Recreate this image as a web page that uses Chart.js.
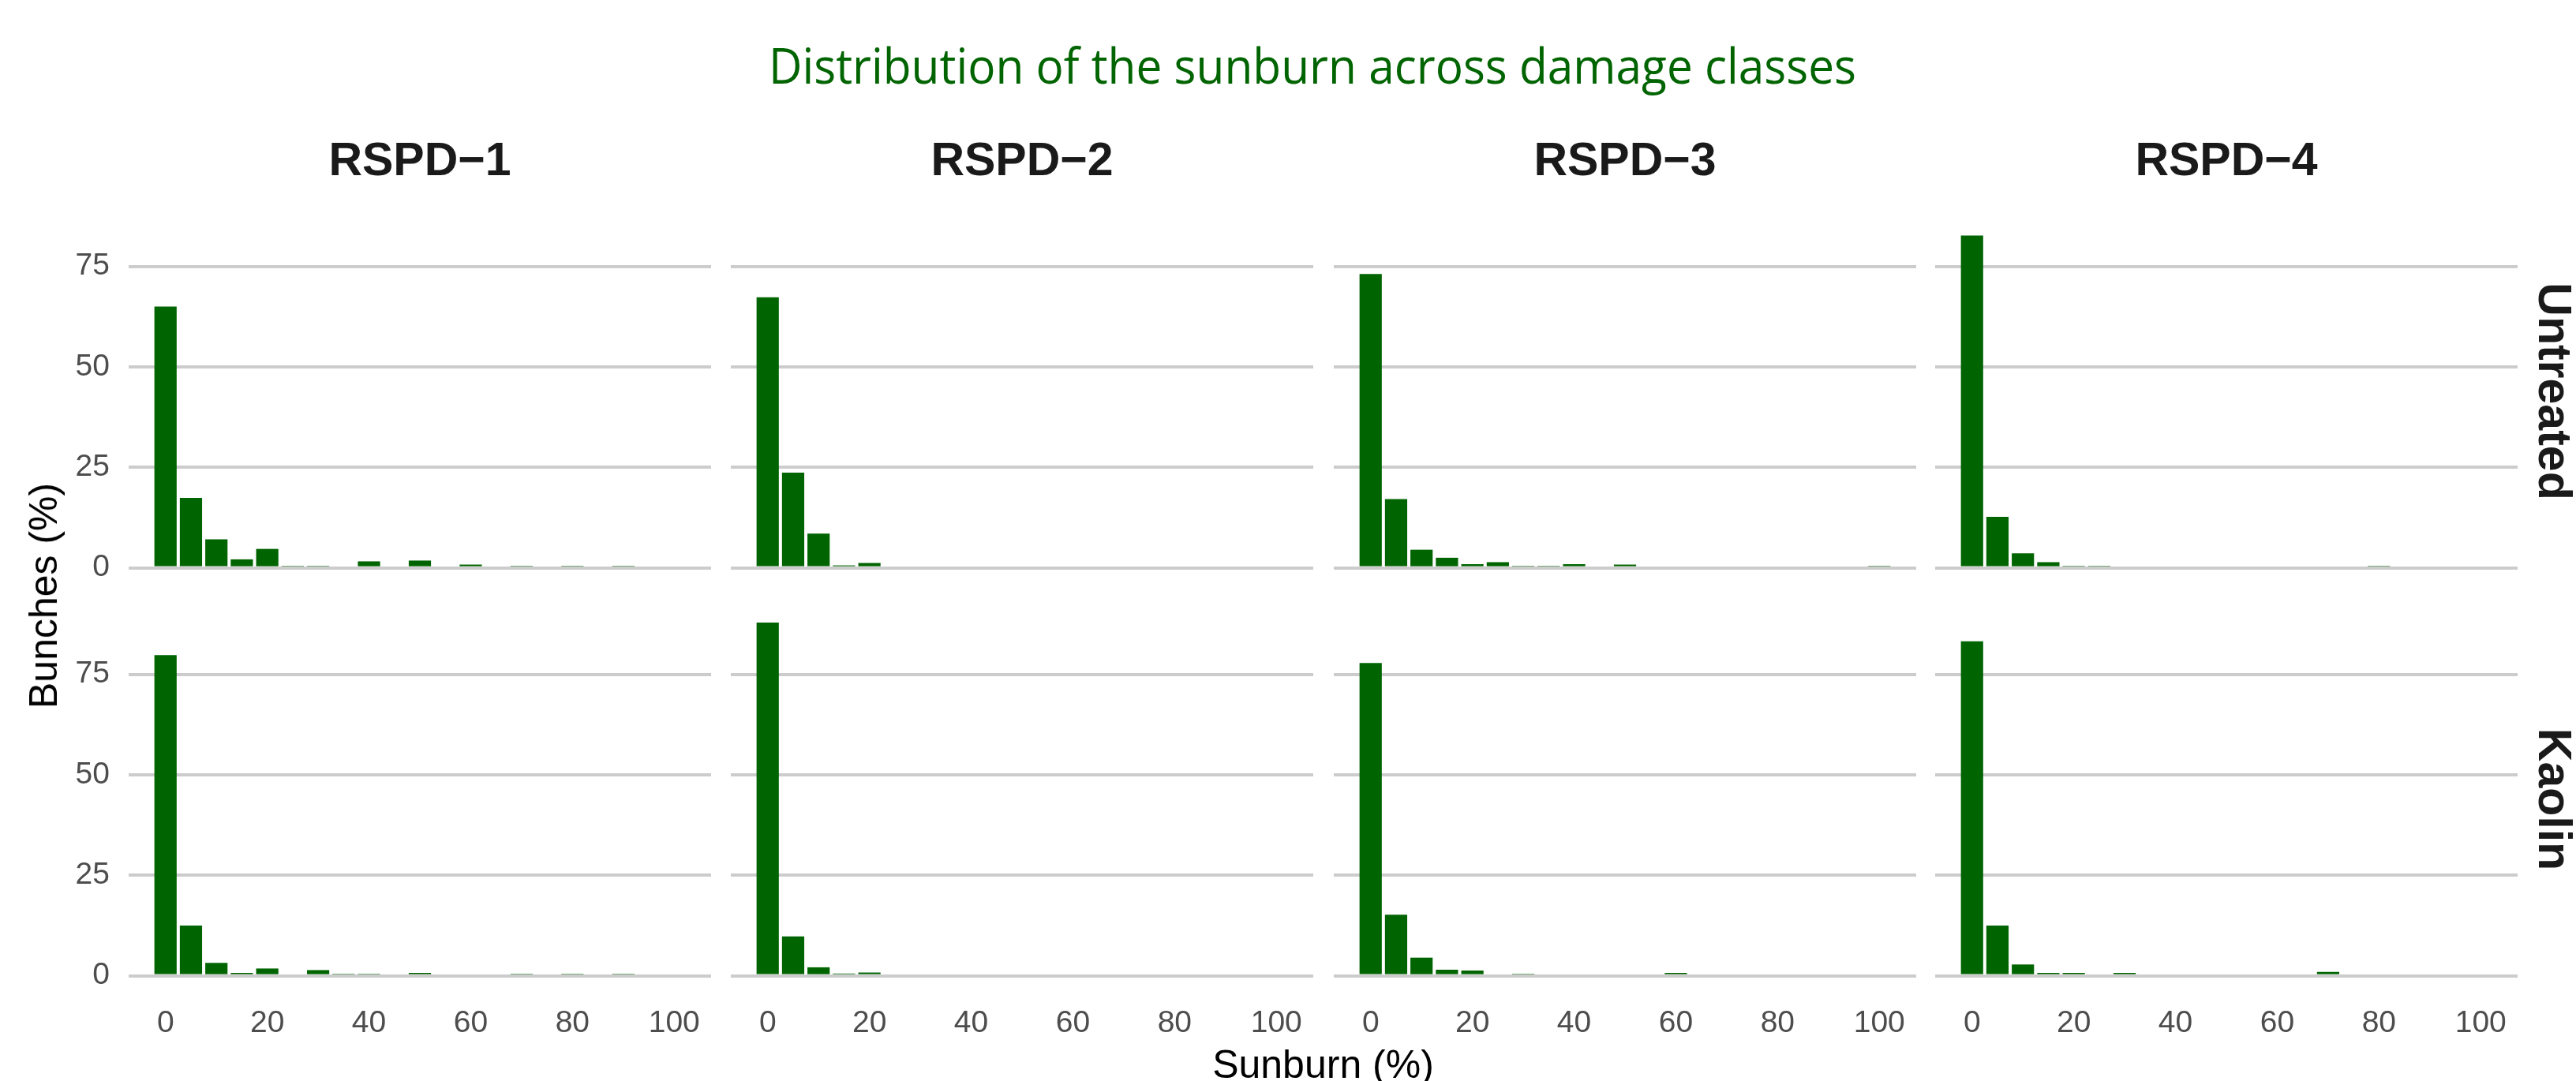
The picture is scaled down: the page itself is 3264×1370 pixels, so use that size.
<!DOCTYPE html>
<html>
<head>
<meta charset="utf-8">
<script src="https://cdn.jsdelivr.net/npm/chart.js@4.4.1/dist/chart.umd.min.js"></script>
<style>
html, body { margin: 0; padding: 0; background: #ffffff; }
#root { position: relative; width: 3264px; height: 1370px; overflow: hidden; background: #ffffff; }
#root canvas { position: absolute; }
.txt { position: absolute; white-space: nowrap; line-height: 1; }
</style>
</head>
<body>
<div id="root"></div>
<script>
// ---------------- DATA ----------------
const binCenters = [0, 5, 10, 15, 20, 25, 30, 35, 40, 45, 50, 55, 60, 65, 70, 75, 80, 85, 90, 95, 100];

const damageClasses = ['RSPD\u22121', 'RSPD\u22122', 'RSPD\u22123', 'RSPD\u22124'];
const treatments = ['Untreated', 'Kaolin'];

// Bunches (%) per sunburn bin, Untreated row
const untreatedRSPD1 = [65.0, 17.4, 7.1, 2.1, 4.7, 0.5, 0.5, 0, 1.6, 0, 1.8, 0, 0.8, 0, 0.5, 0, 0.5, 0, 0.5, 0, 0];
const untreatedRSPD2 = [67.3, 23.7, 8.5, 0.6, 1.2, 0, 0, 0, 0, 0, 0, 0, 0, 0, 0, 0, 0, 0, 0, 0, 0];
const untreatedRSPD3 = [73.1, 17.1, 4.5, 2.5, 0.9, 1.4, 0.5, 0.5, 0.9, 0, 0.8, 0, 0, 0, 0, 0, 0, 0, 0, 0, 0.5];
const untreatedRSPD4 = [82.7, 12.7, 3.6, 1.4, 0.5, 0.5, 0, 0, 0, 0, 0, 0, 0, 0, 0, 0, 0.5, 0, 0, 0, 0];

// Bunches (%) per sunburn bin, Kaolin row
const kaolinRSPD1 = [79.8, 12.5, 3.2, 0.7, 1.8, 0, 1.4, 0.5, 0.5, 0, 0.7, 0, 0, 0, 0.5, 0, 0.5, 0, 0.5, 0, 0];
const kaolinRSPD2 = [87.9, 9.8, 2.1, 0.55, 0.8, 0, 0, 0, 0, 0, 0, 0, 0, 0, 0, 0, 0, 0, 0, 0, 0];
const kaolinRSPD3 = [77.8, 15.2, 4.5, 1.5, 1.3, 0, 0.5, 0, 0, 0, 0, 0, 0.7, 0, 0, 0, 0, 0, 0, 0, 0];
const kaolinRSPD4 = [83.2, 12.5, 2.8, 0.7, 0.7, 0, 0.7, 0, 0, 0, 0, 0, 0, 0, 0.95, 0, 0, 0, 0, 0, 0];

const xTickValues = [0, 20, 40, 60, 80, 100];
const xTickLabels = ['0', '20', '40', '60', '80', '100'];
const yTickValues = [0, 25, 50, 75];
const yTickLabels = ['0', '25', '50', '75'];

const chartTitle = 'Distribution of the sunburn across damage classes';
const xAxisTitle = 'Sunburn (%)';
const yAxisTitle = 'Bunches (%)';

// ---------------- LAYOUT / STYLE ----------------
const panelLeft = [163, 926, 1690, 2452];
const panelWidth = 738;
const rowTop = [250, 767];
const panelHeight = 492;
const yAxisWidth = 163;
const xAxisHeight = 100;
const xRange = [-7.25, 107.25];
const yRange = [-4.4, 92.2];

const barColor = '#006400';
const gridColor = '#CCCCCC';
const tickColor = '#4D4D4D';
const tickFont = { family: 'Liberation Sans', size: 39 };

const rows = [
  [untreatedRSPD1, untreatedRSPD2, untreatedRSPD3, untreatedRSPD4],
  [kaolinRSPD1, kaolinRSPD2, kaolinRSPD3, kaolinRSPD4]
];

const root = document.getElementById('root');

function addText(text, cx, cy, css, rotate, fitWidth) {
  const d = document.createElement('div');
  d.className = 'txt';
  d.textContent = text;
  Object.assign(d.style, css);
  d.style.left = cx + 'px';
  d.style.top = cy + 'px';
  root.appendChild(d);
  let t = 'translate(-50%, -50%)';
  if (rotate) t += ' rotate(' + rotate + 'deg)';
  if (fitWidth) {
    const w = d.getBoundingClientRect().width;
    t += ' scaleX(' + (fitWidth / w) + ')';
  }
  d.style.transform = t;
  return d;
}

function zeroPadding(s) {
  s.paddingTop = 0; s.paddingBottom = 0; s.paddingLeft = 0; s.paddingRight = 0;
}

// ---------------- CHARTS ----------------
rows.forEach((rowSeries, r) => {
  rowSeries.forEach((values, c) => {
    const isLeft = c === 0;
    const isBottom = r === 1;
    const left = isLeft ? panelLeft[c] - yAxisWidth : panelLeft[c];
    const width = panelWidth + (isLeft ? yAxisWidth : 0);
    const top = rowTop[r];
    const height = panelHeight + (isBottom ? xAxisHeight : 0);

    const cv = document.createElement('canvas');
    cv.width = width; cv.height = height;
    cv.style.left = left + 'px'; cv.style.top = top + 'px';
    cv.style.width = width + 'px'; cv.style.height = height + 'px';
    root.appendChild(cv);

    new Chart(cv.getContext('2d'), {
      type: 'bar',
      data: {
        datasets: [{
          label: treatments[r] + ' ' + damageClasses[c],
          data: binCenters.map((b, i) => ({ x: b, y: values[i] })),
          backgroundColor: barColor,
          borderWidth: 0,
          barPercentage: 0.875,
          categoryPercentage: 1.0
        }]
      },
      options: {
        responsive: false,
        maintainAspectRatio: false,
        animation: false,
        devicePixelRatio: 1,
        layout: { padding: 0 },
        plugins: { legend: { display: false }, tooltip: { enabled: false }, title: { display: false } },
        scales: {
          x: {
            type: 'linear',
            min: xRange[0], max: xRange[1],
            offset: false,
            grid: { display: false, drawTicks: false, offset: false },
            border: { display: false },
            ticks: {
              display: isBottom,
              font: tickFont, color: tickColor, padding: 15,
              maxRotation: 0, autoSkip: false,
              callback: (v) => { const k = xTickValues.indexOf(v); return k >= 0 ? xTickLabels[k] : ''; }
            },
            afterBuildTicks: (s) => { s.ticks = xTickValues.map(v => ({ value: v })); },
            afterFit: (s) => { s.height = isBottom ? xAxisHeight : 0; zeroPadding(s); }
          },
          y: {
            type: 'linear',
            min: yRange[0], max: yRange[1],
            grid: { color: gridColor, lineWidth: 4, drawTicks: false },
            border: { display: false },
            ticks: {
              display: isLeft,
              font: tickFont, color: tickColor, padding: 24,
              callback: (v) => { const k = yTickValues.indexOf(v); return k >= 0 ? yTickLabels[k] : ''; }
            },
            afterBuildTicks: (s) => { s.ticks = yTickValues.map(v => ({ value: v })); },
            afterFit: (s) => { s.width = isLeft ? yAxisWidth : 0; zeroPadding(s); }
          }
        }
      }
    });
  });
});

// ---------------- TEXT ----------------
addText(chartTitle, 1663, 81, { fontFamily: '"Open Sans", sans-serif', fontSize: '63px', color: '#006400' }, 0, 1378);

damageClasses.forEach((name, c) => {
  addText(name, panelLeft[c] + panelWidth / 2, 202,
    { fontFamily: '"Liberation Sans", Arial, sans-serif', fontSize: '59px', fontWeight: 'bold', color: '#1A1A1A' });
});

treatments.forEach((name, r) => {
  addText(name, 3236, rowTop[r] + panelHeight / 2,
    { fontFamily: '"Liberation Sans", Arial, sans-serif', fontSize: '59px', fontWeight: 'bold', color: '#1A1A1A' }, 90);
});

addText(xAxisTitle, (panelLeft[0] + panelLeft[3] + panelWidth) / 2, 1349,
  { fontFamily: '"Liberation Sans", Arial, sans-serif', fontSize: '50px', color: '#000000' });
addText(yAxisTitle, 55, (rowTop[0] + rowTop[1] + panelHeight) / 2,
  { fontFamily: '"Liberation Sans", Arial, sans-serif', fontSize: '50px', color: '#000000' }, -90);
</script>
</body>
</html>
